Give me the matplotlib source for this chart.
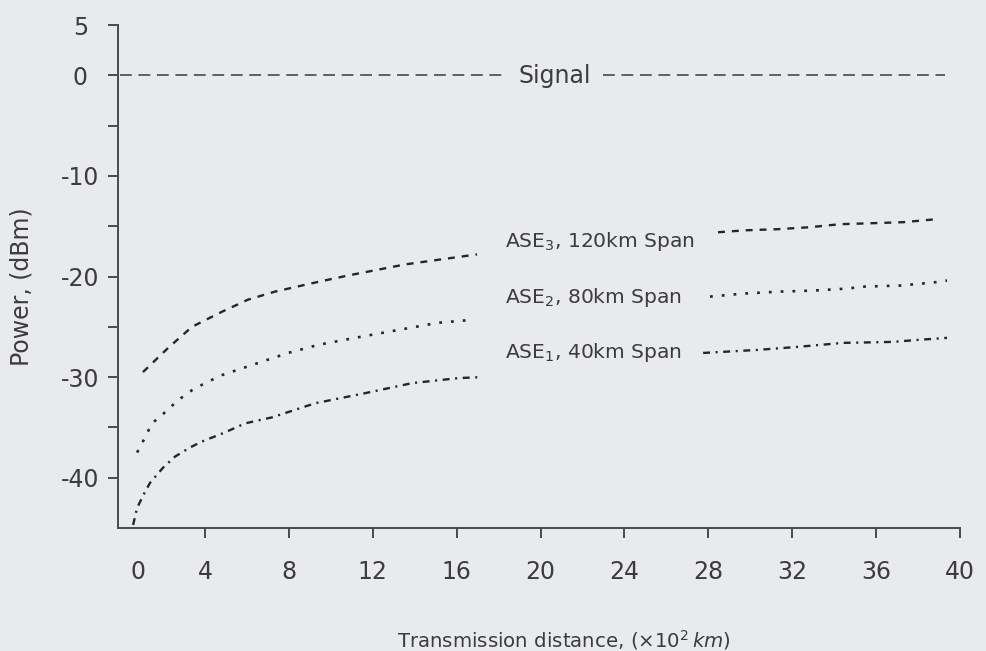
import matplotlib
matplotlib.use("Agg")
import matplotlib.pyplot as plt
import numpy as np

plt.rcParams['font.family'] = ['DejaVu Sans']
plt.rcParams['lines.scale_dashes'] = False

# ---- data ----
ase3_x = [1.04, 2.24, 3.38, 4.81, 6.05, 7.34, 9.25, 10.82, 13.54, 16.97]
ase3_y = [-29.5, -27.1, -25.0, -23.5, -22.3, -21.5, -20.6, -19.9, -18.8, -17.8]
ase2_x = [0.76, 1.14, 1.47, 2.09, 2.71, 3.38, 4.0, 4.81, 6.24, 7.96, 9.39, 11.15, 12.73, 15.11, 16.78]
ase2_y = [-37.5, -36.0, -34.6, -33.5, -32.3, -31.3, -30.6, -29.8, -28.8, -27.6, -26.8, -26.1, -25.5, -24.6, -24.3]
ase1_x = [0.57, 0.76, 1.14, 1.38, 2.0, 2.57, 3.28, 3.86, 4.95, 5.91, 7.2, 9.25, 11.63, 13.87, 16.07, 17.2]
ase1_y = [-44.7, -43.0, -41.4, -40.5, -39.0, -37.9, -37.0, -36.4, -35.5, -34.6, -34.0, -32.6, -31.6, -30.6, -30.1, -30.0]

ase3r_x = [28.46, 29.85, 31.28, 32.85, 34.28, 35.86, 37.29, 38.9]
ase3r_y = [-15.6, -15.4, -15.3, -15.1, -14.8, -14.7, -14.6, -14.3]
ase2r_x = [28.08, 29.66, 31.42, 33.0, 34.61, 35.47, 37.14, 38.71, 39.38]
ase2r_y = [-22.0, -21.7, -21.5, -21.4, -21.2, -21.0, -20.9, -20.6, -20.4]
ase1r_x = [27.75, 30.32, 32.23, 34.42, 36.81, 38.0, 39.38]
ase1r_y = [-27.6, -27.3, -27.0, -26.6, -26.5, -26.3, -26.1]

signal_left_x = [-0.05, 18.3]
signal_right_x = [22.98, 39.3]
signal_level = 0.0

series_labels = ["ASE$_3$, 120km Span", "ASE$_2$, 80km Span", "ASE$_1$, 40km Span"]
label_pos = [(18.31, -17.1), (18.31, -22.6), (18.31, -28.1)]

xtick_pos = [0.8, 4, 8, 12, 16, 20, 24, 28, 32, 36, 40]
xtick_lab = ['0', '4', '8', '12', '16', '20', '24', '28', '32', '36', '40']
ytick_pos = [5, 0, -5, -10, -15, -20, -25, -30, -35, -40]
ytick_lab = ['5', '0', '', '-10', '', '-20', '', '-30', '', '-40']

# ---- styling ----
bg = '#e9eaec'
ink = '#3c3c3c'
curve_col = '#262626'

fig = plt.figure(figsize=(9.87, 6.51), dpi=100, facecolor=bg)
ax = fig.add_axes([118/987, 1-528/651, (960-118)/987, (528-25)/651])
ax.set_facecolor(bg)

ax.set_xlim(-0.15, 40)
ax.set_ylim(-45, 5)

# signal
ax.plot(signal_left_x, [signal_level]*2, color='#555555', lw=1.3, dashes=(8.5, 4.8))
ax.plot(signal_right_x, [signal_level]*2, color='#555555', lw=1.3, dashes=(8.5, 4.8))
ax.text(18.93, -0.8, 'Signal', fontsize=17, color=ink, ha='left', va='baseline')

# ASE curves
st3 = dict(color=curve_col, lw=1.7, dashes=(5, 5))
st2 = dict(color=curve_col, lw=1.9, dashes=(2, 6.5))
st1 = dict(color=curve_col, lw=1.7, dashes=(5, 4, 1.5, 4))
ax.plot(ase3_x, ase3_y, **st3)
ax.plot(ase2_x, ase2_y, **st2)
ax.plot(ase1_x, ase1_y, **st1)
ax.plot(ase3r_x, ase3r_y, **st3)
ax.plot(ase2r_x, ase2r_y, **st2)
ax.plot(ase1r_x, ase1r_y, **st1)

for lab, (lx, ly) in zip(series_labels, label_pos):
    ax.text(lx, ly, lab, fontsize=14.6, color=ink, ha='left', va='baseline')

# axes
for s in ['top', 'right']:
    ax.spines[s].set_visible(False)
for s in ['left', 'bottom']:
    ax.spines[s].set_color('#4a4a4a')
    ax.spines[s].set_linewidth(1.4)

ax.set_xticks(xtick_pos)
ax.set_xticklabels(xtick_lab)
ax.set_yticks(ytick_pos)
ax.set_yticklabels(ytick_lab)
ax.tick_params(axis='both', direction='out', length=7, width=1.4, color='#4a4a4a',
               labelsize=17, labelcolor=ink)
ax.tick_params(axis='x', pad=16)
ax.tick_params(axis='y', pad=20)
ax.xaxis.get_major_ticks()[0].tick1line.set_visible(False)
for t in ax.get_yticklabels():
    t.set_ha('center')

ax.set_ylabel('Power, (dBm)', fontsize=17, color=ink, labelpad=0)
ax.yaxis.set_label_coords((34-118)/842, (528-287)/503)
fig.text(397/987, 1-640/651, r'Transmission distance, $\left(\times10^{2}\,km\right)$',
         fontsize=14.2, color=ink, ha='left', va='center')

fig.savefig('out.png', dpi=100, facecolor=bg)
